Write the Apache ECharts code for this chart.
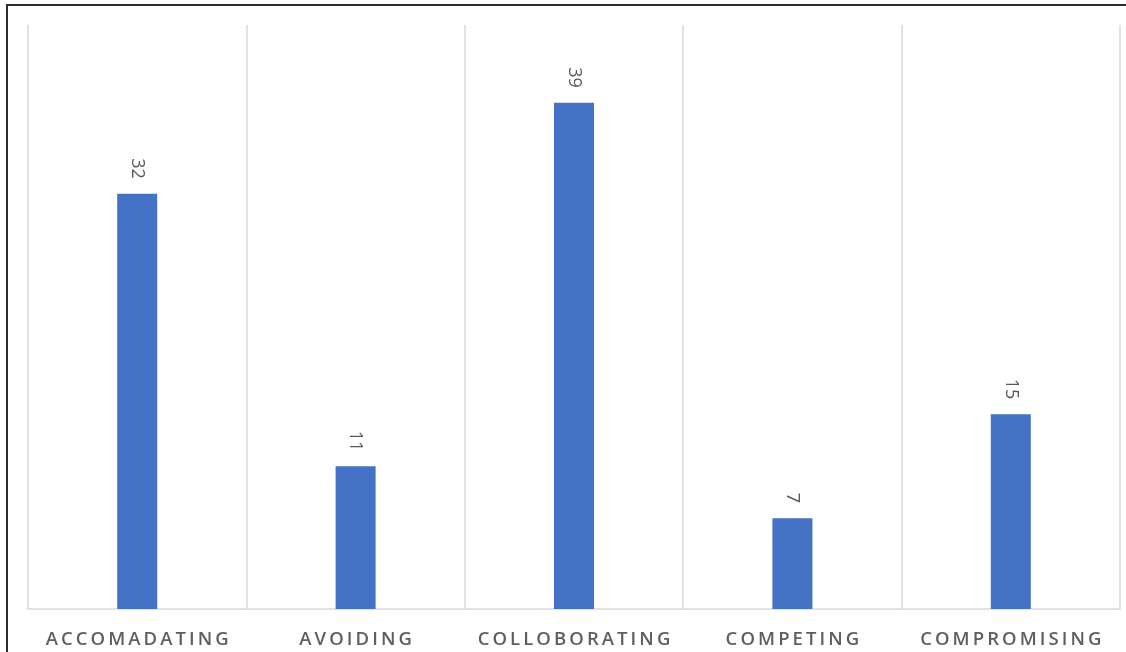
<!DOCTYPE html>
<html>
<head>
<meta charset="utf-8">
<script src="https://cdn.jsdelivr.net/npm/echarts@6/dist/echarts.min.js"></script>
<style>
  html, body { margin: 0; padding: 0; background: #fff; }
  #wrap { position: relative; width: 1126px; height: 652px; overflow: hidden; }
  #chart { position: absolute; left: 0; top: 0; width: 1126px; height: 652px; }
  #frame { position: absolute; left: 6px; top: 4px; right: -4px; bottom: -4px;
           border-left: 2px solid #2b2b2b; border-top: 2px solid #2b2b2b; pointer-events: none; }
</style>
</head>
<body>
<div id="wrap">
  <div id="chart"></div>
  <div id="frame"></div>
</div>
<script>
// Conflict-handling styles and respondent counts
const categories = ['ACCOMADATING', 'AVOIDING', 'COLLOBORATING', 'COMPETING', 'COMPROMISING'];
const counts = [32, 11, 39, 7, 15];

// spread capital letters apart
const spaced = s => s.split('').join('\u2009');

const chart = echarts.init(document.getElementById('chart'), null, { renderer: 'canvas' });
chart.setOption({
  animation: false,
  grid: { left: 28, right: 6, top: 25, bottom: 43 },
  xAxis: {
    type: 'category',
    data: categories,
    boundaryGap: true,
    axisLine: { show: true, lineStyle: { color: '#d9d9d9', width: 1.5 } },
    axisTick: { show: false },
    splitLine: { show: true, lineStyle: { color: '#d9d9d9', width: 1.5 } },
    axisLabel: {
      interval: 0,
      margin: 21,
      color: '#5f5f5f',
      fontFamily: 'Open Sans',
      fontWeight: 600,
      fontSize: 18.5,
      formatter: spaced
    }
  },
  yAxis: {
    type: 'value',
    min: 0,
    max: 45,
    show: false,
    splitLine: { show: false }
  },
  series: [{
    type: 'bar',
    data: counts,
    barWidth: 40,
    itemStyle: { color: '#4472C4' },
    label: {
      show: true,
      position: 'top',
      distance: 15,
      rotate: -90,
      align: 'right',
      verticalAlign: 'middle',
      color: '#595959',
      fontFamily: 'Open Sans',
      fontSize: 18
    }
  }]
});
</script>
</body>
</html>
